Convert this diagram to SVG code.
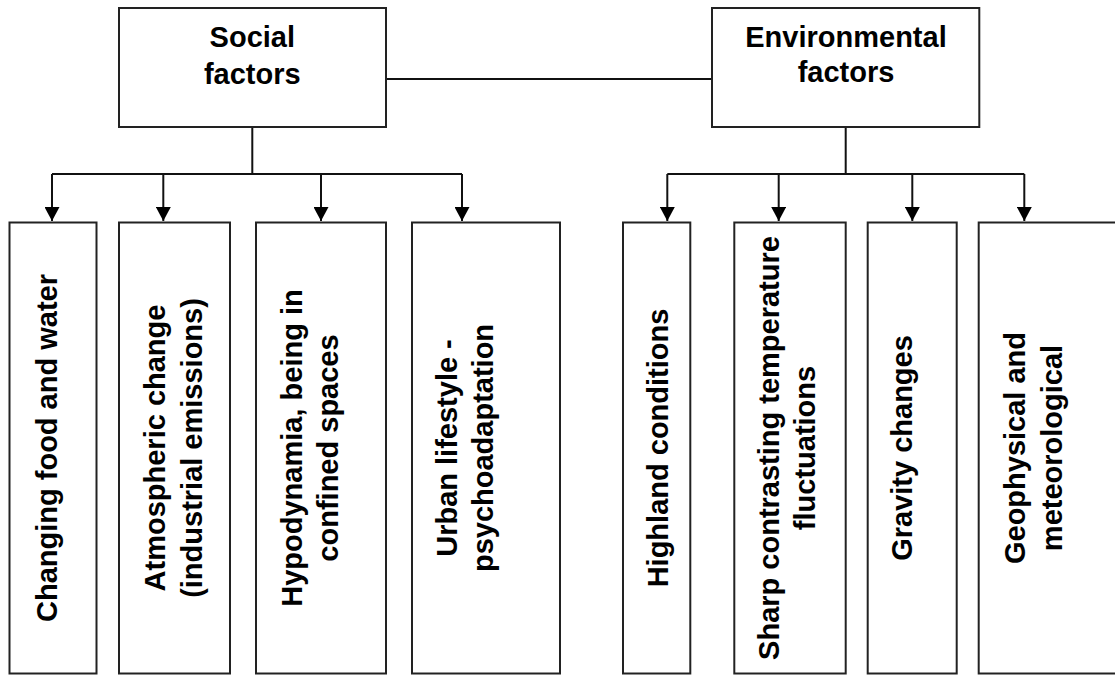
<svg xmlns="http://www.w3.org/2000/svg" width="1115" height="675" viewBox="0 0 1115 675">
<style>
.box{fill:#fff;stroke:#222;stroke-width:2}
.t{font-family:"Liberation Sans",Arial,sans-serif;font-weight:bold;font-size:29px;fill:#000;text-anchor:middle}
.c{fill:none;stroke:#111;stroke-width:2}
</style>
<defs>
<marker id="ah" viewBox="0 0 14 15" refX="14" refY="7.5" markerWidth="14" markerHeight="15" markerUnits="userSpaceOnUse" orient="auto">
<path d="M0,0 L14,7.5 L0,15 z" fill="#000"/>
</marker>
</defs>
<rect width="1115" height="675" fill="#fff"/>
<g id="connectors">
<path class="c" d="M386 79 H712"/>
<path class="c" d="M252.3 127 V174 M52 174 H462"/>
<path class="c" d="M52 174 V221" marker-end="url(#ah)"/>
<path class="c" d="M163.3 174 V221" marker-end="url(#ah)"/>
<path class="c" d="M321 174 V221" marker-end="url(#ah)"/>
<path class="c" d="M462 174 V221" marker-end="url(#ah)"/>
<path class="c" d="M845.7 127 V174 M667.3 174 H1024.3"/>
<path class="c" d="M667.3 174 V221" marker-end="url(#ah)"/>
<path class="c" d="M778.7 174 V221" marker-end="url(#ah)"/>
<path class="c" d="M912.3 174 V221" marker-end="url(#ah)"/>
<path class="c" d="M1024.3 174 V221" marker-end="url(#ah)"/>
</g>
<g id="social">
<rect class="box" x="119" y="8" width="267" height="119"/>
<text class="t"><tspan x="252.3" y="47">Social</tspan><tspan x="252.3" y="84">factors</tspan></text>
</g>
<g id="environmental">
<rect class="box" x="712" y="8" width="267.3" height="119"/>
<text class="t"><tspan x="846" y="47">Environmental</tspan><tspan x="846" y="82">factors</tspan></text>
</g>
<g id="food">
<rect class="box" x="9.5" y="222.5" width="87" height="451"/>
<text class="t" transform="translate(56.7,448) rotate(-90)"><tspan x="0" y="0">Changing food and water</tspan></text>
</g>
<g id="atmosphere">
<rect class="box" x="119" y="222.5" width="111" height="451"/>
<text class="t" transform="translate(165,448) rotate(-90)"><tspan x="0" y="0">Atmospheric change</tspan><tspan x="0" y="36.7">(industrial emissions)</tspan></text>
</g>
<g id="hypodynamia">
<rect class="box" x="256" y="222.5" width="130" height="451"/>
<text class="t" transform="translate(301.7,448) rotate(-90)"><tspan x="0" y="0">Hypodynamia, being in</tspan><tspan x="0" y="36.7">confined spaces</tspan></text>
</g>
<g id="urban">
<rect class="box" x="412" y="222.5" width="148" height="451"/>
<text class="t" transform="translate(456.7,448) rotate(-90)"><tspan x="0" y="0">Urban lifestyle -</tspan><tspan x="0" y="36.7">psychoadaptation</tspan></text>
</g>
<g id="highland">
<rect class="box" x="623" y="222.5" width="67.3" height="451"/>
<text class="t" transform="translate(667.7,448) rotate(-90)"><tspan x="0" y="0">Highland conditions</tspan></text>
</g>
<g id="temperature">
<rect class="box" x="734.3" y="222.5" width="111.4" height="451"/>
<text class="t" transform="translate(779,448) rotate(-90)"><tspan x="0" y="0">Sharp contrasting temperature</tspan><tspan x="0" y="36">fluctuations</tspan></text>
</g>
<g id="gravity">
<rect class="box" x="867.7" y="222.5" width="89" height="451"/>
<text class="t" transform="translate(911.7,448) rotate(-90)"><tspan x="0" y="0">Gravity changes</tspan></text>
</g>
<g id="geophysical">
<rect class="box" x="978.7" y="222.5" width="160" height="451"/>
<text class="t" transform="translate(1025,448) rotate(-90)"><tspan x="0" y="0">Geophysical and</tspan><tspan x="0" y="36.7">meteorological</tspan></text>
</g>
</svg>
